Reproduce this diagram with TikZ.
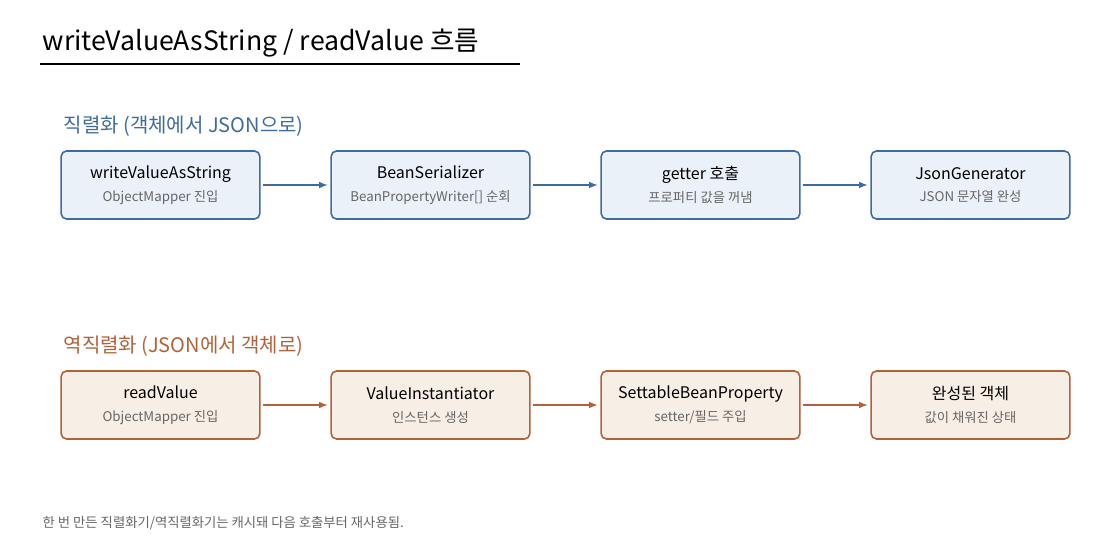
\documentclass[tikz,border=0pt]{standalone}
\usepackage{fontspec}
\setmainfont{Noto Sans CJK KR}
\usetikzlibrary{positioning}
\definecolor{serline}{HTML}{3E6C9E}
\definecolor{serfill}{HTML}{EAF1F8}
\definecolor{desline}{HTML}{B0633A}
\definecolor{desfill}{HTML}{F7EFE6}
\definecolor{subgray}{HTML}{666666}
\tikzset{
    step/.style={draw=#1line, fill=#1fill, line width=1.2pt, rounded corners=4pt,
        minimum width=149pt, minimum height=51pt, align=center, inner sep=0pt},
    flow/.style={-latex, draw=#1line, line width=1.2pt},
}
\newcommand{\steptext}[2]{{\fontsize{12}{14}\selectfont #1}\\[5pt]{\fontsize{10}{12}\selectfont\color{subgray}#2}}
\begin{document}
\begin{tikzpicture}[x=0.75pt,y=-0.75pt]
    \useasboundingbox (0,0) rectangle (1120,560);

    % title
    \node[anchor=west, font=\fontsize{20}{24}\selectfont] (title) at (38,43) {writeValueAsString / readValue 흐름};
    \draw[line width=1.2pt] (40,64) coordinate (ul) -- (520,64) coordinate (ur);

    % serialization row
    \node[anchor=west, text=serline, font=\fontsize{15}{17}\selectfont] (serhead) at (59,126) {직렬화 (객체에서 JSON으로)};
    \node[step=ser] (s1) at (160.5,185) {\steptext{writeValueAsString}{ObjectMapper 진입}};
    \node[step=ser] (s2) at (430.5,185) {\steptext{BeanSerializer}{BeanPropertyWriter[] 순회}};
    \node[step=ser] (s3) at (700.5,185) {\steptext{getter 호출}{프로퍼티 값을 꺼냄}};
    \node[step=ser] (s4) at (970.5,185) {\steptext{JsonGenerator}{JSON 문자열 완성}};
    \foreach \a/\b in {s1/s2, s2/s3, s3/s4}
        \draw[flow=ser] ([xshift=2pt]\a.east) -- ([xshift=-2pt]\b.west);

    % deserialization row
    \node[anchor=west, text=desline, font=\fontsize{15}{17}\selectfont] (deshead) at (59,346) {역직렬화 (JSON에서 객체로)};
    \node[step=des] (d1) at (160.5,405) {\steptext{readValue}{ObjectMapper 진입}};
    \node[step=des] (d2) at (430.5,405) {\steptext{ValueInstantiator}{인스턴스 생성}};
    \node[step=des] (d3) at (700.5,405) {\steptext{SettableBeanProperty}{setter/필드 주입}};
    \node[step=des] (d4) at (970.5,405) {\steptext{완성된 객체}{값이 채워진 상태}};
    \foreach \a/\b in {d1/d2, d2/d3, d3/d4}
        \draw[flow=des] ([xshift=2pt]\a.east) -- ([xshift=-2pt]\b.west);

    % footnote
    \node[anchor=west, text=subgray, font=\fontsize{10}{12}\selectfont] (note) at (38,523) {한 번 만든 직렬화기/역직렬화기는 캐시돼 다음 호출부터 재사용됨.};
\end{tikzpicture}
\end{document}
